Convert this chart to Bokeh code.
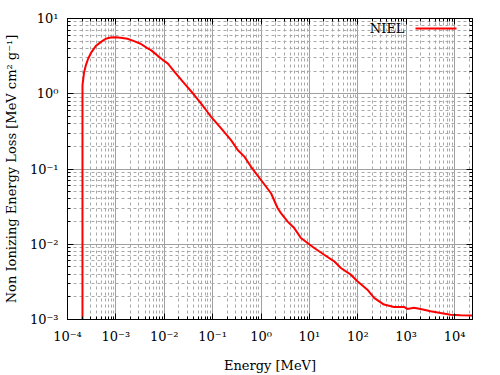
from bokeh.plotting import figure
from bokeh.models import (LogAxis, FixedTicker, CustomJSTickFormatter, Label, Arrow, Range1d)
from bokeh.embed import file_html
from bokeh.resources import INLINE

# Data (Energy [MeV], NIEL [MeV cm^2 g^-1])
energy = [2.04e-4, 2.04e-4, 2.21e-4, 2.39e-4, 2.67e-4, 3.13e-4, 3.84e-4, 4.86e-4, 6.17e-4, 7.82e-4,
          9.91e-4, 1.26e-3, 1.73e-3, 2.37e-3, 3.24e-3, 4.46e-3, 5.40e-3, 8.67e-3, 1.19e-2, 1.63e-2,
          2.62e-2, 4.22e-2, 5.79e-2, 7.35e-2, 9.31e-2, 0.150, 0.240, 0.330, 0.453, 0.622,
          1.0, 1.61, 2.21, 2.58, 3.55, 4.86, 6.68, 9.16, 12.6, 20.2,
          32.5, 44.6, 71.8, 98.4, 158, 217, 348, 561, 902, 1057,
          1452, 1991, 3199, 5140, 8279, 13300, 23170]
niel = [1e-5, 1.30, 1.95, 2.38, 2.92, 3.58, 4.30, 4.85, 5.38, 5.60,
        5.65, 5.55, 5.38, 5.00, 4.62, 4.05, 3.77, 2.92, 2.51, 1.95,
        1.36, 0.955, 0.741, 0.604, 0.493, 0.346, 0.242, 0.179, 0.146, 0.107,
        0.0714, 0.0476, 0.0301, 0.0259, 0.0200, 0.0164, 0.0121, 0.0104, 0.00891, 0.00726,
        0.00593, 0.00484, 0.00394, 0.00322, 0.00249, 0.00194, 0.00158, 0.00147, 0.00147, 0.00138,
        0.00143, 0.00138, 0.00129, 0.00122, 0.00116, 0.00114, 0.00113]

x_decades = list(range(-4, 5))
y_decades = list(range(-3, 2))
series_label = "NIEL"
x_title = "Energy [MeV]"
y_title = "Non Ionizing Energy Loss [MeV cm\u00b2 g\u207b\u00b9]"

FONT = "DejaVu Serif"

p = figure(width=500, height=375, x_axis_type="log", y_axis_type="log",
           x_range=Range1d(1e-4, 2.35e4), y_range=Range1d(1e-3, 1e1),
           output_backend="svg", toolbar_location=None,
           min_border_left=66, min_border_right=28, min_border_top=18, min_border_bottom=55)
p.background_fill_color = "white"
p.border_fill_color = "white"
p.outline_line_color = "black"
p.outline_line_width = 1

xt_major = [10.0 ** d for d in x_decades]
xt_minor = [m * 10.0 ** d for d in x_decades for m in range(2, 10)]
yt_major = [10.0 ** d for d in y_decades]
yt_minor = [m * 10.0 ** d for d in y_decades[:-1] for m in range(2, 10)]
xticker = FixedTicker(ticks=xt_major, minor_ticks=xt_minor)
yticker = FixedTicker(ticks=yt_major, minor_ticks=yt_minor)

sup_code = """
const e = Math.round(Math.log10(tick));
const sup = {'-':'\u207b','0':'\u2070','1':'\u00b9','2':'\u00b2','3':'\u00b3','4':'\u2074','5':'\u2075','6':'\u2076','7':'\u2077','8':'\u2078','9':'\u2079'};
return '10' + String(e).split('').map(c => sup[c]).join('');
"""
fmt = CustomJSTickFormatter(code=sup_code)
blank_fmt = CustomJSTickFormatter(code="return '';")

def style_axis(ax, ticker, labels=True):
    ax.ticker = ticker
    ax.major_tick_in = 6
    ax.major_tick_out = 0
    ax.minor_tick_in = 3
    ax.minor_tick_out = 0
    ax.axis_line_color = "black"
    ax.major_tick_line_color = "black"
    ax.minor_tick_line_color = "black"
    ax.major_label_text_font = FONT
    ax.major_label_text_color = "black"
    ax.major_label_text_font_size = "13px"
    ax.axis_label_text_font = FONT
    ax.axis_label_text_font_style = "normal"
    ax.axis_label_text_font_size = "13px"
    ax.axis_label_text_color = "black"
    if labels:
        ax.formatter = fmt
        ax.major_label_standoff = 9
    else:
        ax.formatter = blank_fmt
        ax.major_label_standoff = 0

style_axis(p.xaxis[0], xticker)
style_axis(p.yaxis[0], yticker)
p.xaxis[0].axis_label = x_title
p.yaxis[0].axis_label = y_title
p.xaxis[0].axis_label_standoff = 11
p.yaxis[0].axis_label_standoff = 8

top = LogAxis()
style_axis(top, xticker, labels=False)
right = LogAxis()
style_axis(right, yticker, labels=False)
p.add_layout(top, "above")
p.add_layout(right, "right")

for g, tk in ((p.xgrid[0], xticker), (p.ygrid[0], yticker)):
    g.ticker = tk
    g.grid_line_color = "#a0a0a0"
    g.grid_line_width = 1
    g.minor_grid_line_color = "#a8a8a8"
    g.minor_grid_line_dash = "3 3"
    g.minor_grid_line_width = 1

p.line(energy, niel, line_color="red", line_width=2)

p.add_layout(Label(x=337, y=291, x_units="screen", y_units="screen", text=series_label,
                   text_font=FONT, text_font_size="13px", text_align="right",
                   text_baseline="middle", text_color="black"))
p.add_layout(Arrow(end=None, x_start=348, y_start=291, x_end=389, y_end=291,
                   start_units="screen", end_units="screen",
                   line_color="red", line_width=2))

open("out.html", "w").write(file_html(p, INLINE))
